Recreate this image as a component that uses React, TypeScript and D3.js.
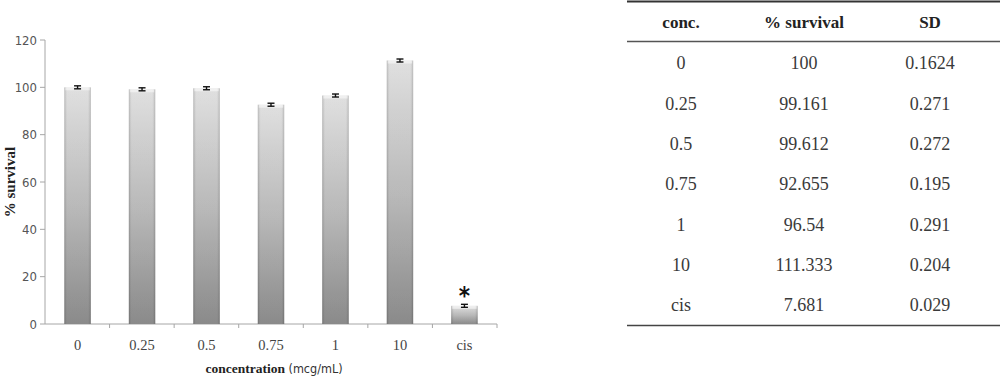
import React from "react";
import * as d3 from "d3";

const categories = ["0", "0.25", "0.5", "0.75", "1", "10", "cis"];
const survival = [100, 99.161, 99.612, 92.655, 96.54, 111.333, 7.681];
const sd = [0.1624, 0.271, 0.272, 0.195, 0.291, 0.204, 0.029];
const survivalText = ["100", "99.161", "99.612", "92.655", "96.54", "111.333", "7.681"];
const sdText = ["0.1624", "0.271", "0.272", "0.195", "0.291", "0.204", "0.029"];
const yTicks = [0, 20, 40, 60, 80, 100, 120];
const tableHeaders = ["conc.", "% survival", "SD"];
const significant = ["cis"];

const W = 1000;
const H = 378;

export default function App() {
  const x = d3.scaleBand<string>().domain(categories).range([45, 497]).paddingInner(0.59).paddingOuter(0.3);
  const xb = d3.scaleBand<string>().domain(categories).range([45, 497]);
  const y = d3.scaleLinear().domain([0, 120]).range([324, 40]);

  const colX = [681, 804, 930];
  const rowY = d3.scaleLinear().domain([0, 6]).range([63, 305]);

  const serif = "'Liberation Serif', 'Times New Roman', serif";
  const sans = "'DejaVu Sans Condensed', 'DejaVu Sans', sans-serif";

  return (
    <div style={{ position: "absolute", left: 0, top: 0 }}>
      <svg width={W} height={H} viewBox={`0 0 ${W} ${H}`} style={{ display: "block", background: "#fff" }}>
        <defs>
          <linearGradient id="barV" x1="0" y1="0" x2="0" y2="1">
            <stop offset="0" stopColor="#dedede" />
            <stop offset="0.5" stopColor="#b6b6b6" />
            <stop offset="1" stopColor="#848484" />
          </linearGradient>
          <linearGradient id="barH" x1="0" y1="0" x2="1" y2="0">
            <stop offset="0" stopColor="#000" stopOpacity="0.18" />
            <stop offset="0.12" stopColor="#fff" stopOpacity="0.05" />
            <stop offset="0.88" stopColor="#fff" stopOpacity="0.05" />
            <stop offset="1" stopColor="#000" stopOpacity="0.18" />
          </linearGradient>
        </defs>

        {/* Y axis */}
        <line x1={45} x2={45} y1={y(120)} y2={y(0)} stroke="#a6a6a6" strokeWidth={1} />
        {yTicks.map((t) => (
          <g key={t}>
            <line x1={40} x2={45} y1={y(t)} y2={y(t)} stroke="#a6a6a6" />
            <text x={37} y={y(t)} dy="0.35em" textAnchor="end" fontFamily={sans} fontSize={13} fill="#555">
              {t}
            </text>
          </g>
        ))}

        {/* X axis */}
        <line x1={45} x2={497} y1={y(0)} y2={y(0)} stroke="#a6a6a6" strokeWidth={1} />
        {categories.map((c) => (
          <line key={"t" + c} x1={(xb(c) as number) + xb.bandwidth()} x2={(xb(c) as number) + xb.bandwidth()} y1={y(0)} y2={y(0) + 4} stroke="#a6a6a6" />
        ))}

        {/* Bars */}
        {categories.map((c, i) => {
          const bx = x(c) as number;
          const bw = x.bandwidth();
          const top = y(survival[i]);
          const h = y(0) - top;
          return (
            <g key={c}>
              <rect x={bx} y={top} width={bw} height={h} fill="url(#barV)" />
              <rect x={bx} y={top} width={bw} height={h} fill="url(#barH)" />
              <rect x={bx + 1} y={top} width={bw - 2} height={3} fill="#fff" opacity={0.5} />
            </g>
          );
        })}

        {/* Error bars */}
        {categories.map((c, i) => {
          const cx = (x(c) as number) + x.bandwidth() / 2;
          const hi = Math.min(y(survival[i] + sd[i]), y(survival[i]) - 1.5);
          const lo = Math.max(y(survival[i] - sd[i]), y(survival[i]) + 1.5);
          return (
            <g key={"e" + c} stroke="#111" strokeWidth={1.4}>
              <line x1={cx} x2={cx} y1={hi} y2={lo} />
              <line x1={cx - 3.5} x2={cx + 3.5} y1={hi} y2={hi} />
              <line x1={cx - 3.5} x2={cx + 3.5} y1={lo} y2={lo} />
            </g>
          );
        })}

        {/* Significance */}
        {categories.map((c, i) =>
          significant.includes(c) ? (
            <text key={"s" + c} x={(x(c) as number) + x.bandwidth() / 2} y={y(survival[i]) - 2} textAnchor="middle" fontFamily={sans} fontWeight="bold" fontSize={24} fill="#111">
              *
            </text>
          ) : null
        )}

        {/* X tick labels */}
        {categories.map((c) => (
          <text key={"l" + c} x={(x(c) as number) + x.bandwidth() / 2} y={350} textAnchor="middle" fontFamily={serif} fontSize={14.5} fill="#444">
            {c}
          </text>
        ))}

        {/* Axis titles */}
        <text x={274} y={373} textAnchor="middle" fill="#222">
          <tspan fontFamily={serif} fontWeight="bold" fontSize={13.5}>concentration</tspan>
          <tspan fontFamily={sans} fontSize={12.5} fill="#333"> (mcg/mL)</tspan>
        </text>
        <text transform="translate(15,182) rotate(-90)" textAnchor="middle" fontFamily={serif} fontWeight="bold" fontSize={15} fill="#222">
          % survival
        </text>

        {/* Table */}
        <line x1={627} x2={1000} y1={1.5} y2={1.5} stroke="#333" strokeWidth={2} />
        <line x1={627} x2={1000} y1={41.5} y2={41.5} stroke="#555" strokeWidth={1.5} />
        <line x1={627} x2={1000} y1={325.5} y2={325.5} stroke="#444" strokeWidth={1.5} />
        {tableHeaders.map((h, j) => (
          <text key={h} x={colX[j]} y={22} dy="0.35em" textAnchor="middle" fontFamily={serif} fontWeight="bold" fontSize={17} fill="#222">
            {h}
          </text>
        ))}
        {categories.map((c, i) => (
          <g key={"r" + c} fontFamily={serif} fontSize={18} fill="#3a3a3a" textAnchor="middle">
            <text x={colX[0]} y={rowY(i)} dy="0.35em">{c}</text>
            <text x={colX[1]} y={rowY(i)} dy="0.35em">{survivalText[i]}</text>
            <text x={colX[2]} y={rowY(i)} dy="0.35em">{sdText[i]}</text>
          </g>
        ))}
      </svg>
    </div>
  );
}
